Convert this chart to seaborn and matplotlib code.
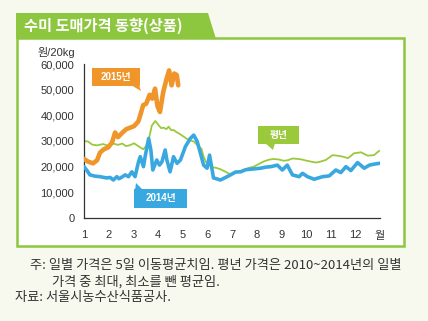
import matplotlib
matplotlib.use("Agg")
import matplotlib.pyplot as plt
from matplotlib.patches import Polygon
import seaborn as sns
import pandas as pd

# ---------------- data ----------------
months_2015 = [1.00, 1.16, 1.37, 1.53, 1.65, 1.81, 1.98, 2.14, 2.26, 2.38, 2.55, 2.71,
               2.87, 3.03, 3.20, 3.28, 3.40, 3.52, 3.66, 3.77, 3.88, 3.98, 4.08, 4.21,
               4.35, 4.45, 4.55, 4.66, 4.76, 4.82]
price_2015 = [23000, 22000, 21300, 22500, 25500, 26800, 27500, 29500, 33300, 31500, 33200, 34600,
              35200, 35800, 37600, 40000, 44000, 44500, 48000, 46500, 50400, 43500, 41300, 49000,
              54300, 57500, 51700, 56300, 55700, 51700]

months_2014 = [1.00, 1.12, 1.24, 1.45, 1.65, 1.92, 2.06, 2.19, 2.33, 2.42, 2.53, 2.67,
               2.80, 2.94, 3.07, 3.21, 3.28, 3.41, 3.48, 3.62, 3.71, 3.79, 3.95, 4.06,
               4.16, 4.29, 4.36, 4.49, 4.63, 4.77, 4.91, 5.11, 5.31, 5.45, 5.59, 5.72,
               5.85, 5.99, 6.09, 6.25, 6.37, 6.53, 6.74, 6.94, 7.14, 7.35, 7.55, 7.75,
               7.96, 8.16, 8.36, 8.57, 8.84, 9.04, 9.24, 9.45, 9.72, 9.86, 10.06, 10.33,
               10.67, 10.94, 11.21, 11.41, 11.62, 11.82, 12.09, 12.36, 12.57, 12.77, 12.97]
price_2014 = [20000, 18500, 16800, 16300, 16100, 15600, 15800, 14800, 16100, 15300, 15900, 16800,
              16100, 18000, 16100, 21900, 23900, 20000, 24000, 31000, 26500, 18700, 22600, 20600,
              21900, 26500, 22600, 18000, 23900, 21300, 22600, 27800, 31000, 32300, 29800, 25200,
              20600, 19400, 24500, 15600, 15300, 14800, 15800, 16800, 17900, 18000, 18800, 19000,
              19200, 19400, 19800, 20000, 20600, 18700, 20600, 16800, 16100, 17400, 16100, 15100,
              16100, 16400, 18700, 17700, 20000, 18500, 21600, 19400, 20600, 21000, 21300]

months_avg = [1.00, 1.16, 1.33, 1.53, 1.77, 1.98, 2.18, 2.38, 2.55, 2.71, 2.87, 3.03,
              3.20, 3.40, 3.52, 3.62, 3.75, 3.89, 4.02, 4.13, 4.23, 4.34, 4.43, 4.54,
              4.63, 4.74, 4.84, 5.04, 5.24, 5.45, 5.65, 5.76, 5.85, 5.96, 6.06, 6.21,
              6.37, 6.53, 6.74, 6.94, 7.06, 7.27, 7.47, 7.67, 7.88, 8.08, 8.28, 8.49,
              8.69, 8.89, 9.10, 9.26, 9.46, 9.67, 9.83, 9.99, 10.19, 10.40, 10.60, 10.80,
              11.08, 11.33, 11.54, 11.69, 11.82, 11.94, 12.23, 12.50, 12.76, 12.97]
price_avg = [30000, 29800, 28600, 28300, 28800, 28200, 29000, 28500, 29000, 28000, 28400, 29100,
             28000, 26800, 28000, 30400, 36000, 37800, 36200, 35000, 35200, 34600, 35600, 34200,
             34300, 33500, 33000, 31700, 30400, 29800, 27800, 27000, 23900, 21500, 20600, 19800,
             19500, 19000, 18000, 17000, 17200, 18200, 18600, 19500, 20000, 21000, 22000, 22700,
             23000, 22800, 22300, 22500, 23200, 23000, 22800, 22400, 22000, 21600, 22000, 22600,
             24500, 24200, 23800, 23300, 24200, 25200, 25600, 24300, 24500, 26200]

x_ticks = [1, 2, 3, 4, 5, 6, 7, 8, 9, 10, 11, 12, 13]
x_labels = ["1", "2", "3", "4", "5", "6", "7", "8", "9", "10", "11", "12", "월"]
y_ticks = [0, 10000, 20000, 30000, 40000, 50000, 60000]

title = "수미 도매가격 동향(상품)"
unit = "원/20kg"
label_2015 = "2015년"
label_2014 = "2014년"
label_avg = "평년"
note1 = "주: 일별 가격은 5일 이동평균치임. 평년 가격은 2010~2014년의 일별"
note2 = "가격 중 최대, 최소를 뺀 평균임."
source = "자료: 서울시농수산식품공사."

# ---------------- style ----------------
sns.set_theme(style="white")
FONT = ["Liberation Sans", "Noto Sans CJK KR", "DejaVu Sans"]
KFONT = ["Noto Sans CJK KR", "DejaVu Sans"]
plt.rcParams["font.family"] = FONT

C_ORANGE = "#F0952A"
C_BLUE = "#3AA8E0"
C_GREEN = "#9BC93C"
C_FRAME = "#8DC63F"
C_BG = "#F8F9EE"
C_TEXT = "#333333"

W, H = 428, 321
fig = plt.figure(figsize=(W / 100, H / 100), dpi=100)
fig.patch.set_facecolor(C_BG)


def P(x, y):
    return (x / W, 1 - y / H)


def poly(points, color, z, **kw):
    fig.add_artist(Polygon([P(*p) for p in points], closed=True, transform=fig.transFigure,
                           facecolor=color, edgecolor="none", zorder=z, **kw))


# white panel with green frame
poly([(17, 38), (404, 38), (404, 246), (17, 246)], "white", -2)
fig.add_artist(Polygon([P(17, 38), P(404, 38), P(404, 246), P(17, 246)], closed=True,
                       transform=fig.transFigure, facecolor="none", edgecolor=C_FRAME,
                       linewidth=1.8, zorder=-1))
# title tab
poly([(16, 13), (208, 13), (216, 39), (16, 39)], C_FRAME, -1)
fig.text(*P(24, 26), title, color="white", fontsize=11, fontweight="bold",
         family=KFONT, ha="left", va="center")

# ---------------- axes ----------------
l, r = 84 / W, 380 / W
b, t = 1 - 218 / H, 1 - 64 / H
ax = fig.add_axes([l, b, r - l, t - b])
ax.set_facecolor("none")

df_avg = pd.DataFrame({"month": months_avg, "price": price_avg})
df_14 = pd.DataFrame({"month": months_2014, "price": price_2014})
df_15 = pd.DataFrame({"month": months_2015, "price": price_2015})

common = dict(x="month", y="price", ax=ax, estimator=None, sort=False, legend=False)
sns.lineplot(data=df_avg, color=C_GREEN, linewidth=1.3, zorder=2, **common)
sns.lineplot(data=df_14, color=C_BLUE, linewidth=2.6, zorder=3, **common)
sns.lineplot(data=df_15, color=C_ORANGE, linewidth=3.3, zorder=4, **common)
for ln in ax.lines:
    ln.set_solid_joinstyle("round")
    ln.set_solid_capstyle("round")

ax.set_xlim(1, 13)
ax.set_ylim(0, 60000)
ax.set_xticks(x_ticks)
ax.set_xticklabels(x_labels)
ax.set_yticks(y_ticks)
ax.set_yticklabels([f"{v:,}" for v in y_ticks])
ax.set_xlabel("")
ax.set_ylabel("")
for s in ["top", "right"]:
    ax.spines[s].set_visible(False)
for s in ["left", "bottom"]:
    ax.spines[s].set_color(C_TEXT)
    ax.spines[s].set_linewidth(0.9)
ax.tick_params(axis="both", direction="in", length=3, width=0.9, color=C_TEXT,
               labelcolor=C_TEXT, labelsize=8)
ax.tick_params(axis="x", pad=9)
ax.tick_params(axis="y", pad=7)
for lab in ax.get_xticklabels() + ax.get_yticklabels():
    lab.set_family(FONT)

fig.text(*P(56, 52), unit, color=C_TEXT, fontsize=8, family=FONT, ha="center", va="center")

# ---------------- callouts ----------------
poly([(92, 68), (140, 68), (140, 86), (92, 86)], C_ORANGE, 5)
poly([(131, 85), (139, 85), (141, 91)], C_ORANGE, 5)
fig.text(*P(116, 77), label_2015, color="white", fontsize=7, fontweight="bold",
         family=FONT, ha="center", va="center", zorder=6)

poly([(134, 189), (187, 189), (187, 208), (134, 208)], C_BLUE, 5)
poly([(135, 190), (143, 190), (136, 183)], C_BLUE, 5)
fig.text(*P(160.5, 198.5), label_2014, color="white", fontsize=7, fontweight="bold",
         family=FONT, ha="center", va="center", zorder=6)

poly([(258, 126), (299, 126), (299, 144), (258, 144)], C_GREEN, 5)
poly([(265, 143), (275, 143), (273, 150)], C_GREEN, 5)
fig.text(*P(278.5, 135), label_avg, color="white", fontsize=7, fontweight="bold",
         family=KFONT, ha="center", va="center", zorder=6)

# ---------------- notes ----------------
fig.text(*P(30, 265), note1, color=C_TEXT, fontsize=9.5, family=KFONT, ha="left", va="center")
fig.text(*P(52, 282), note2, color=C_TEXT, fontsize=9.5, family=KFONT, ha="left", va="center")
fig.text(*P(15, 298), source, color=C_TEXT, fontsize=9.5, family=KFONT, ha="left", va="center")

fig.savefig("out.png", dpi=100, facecolor=C_BG)
